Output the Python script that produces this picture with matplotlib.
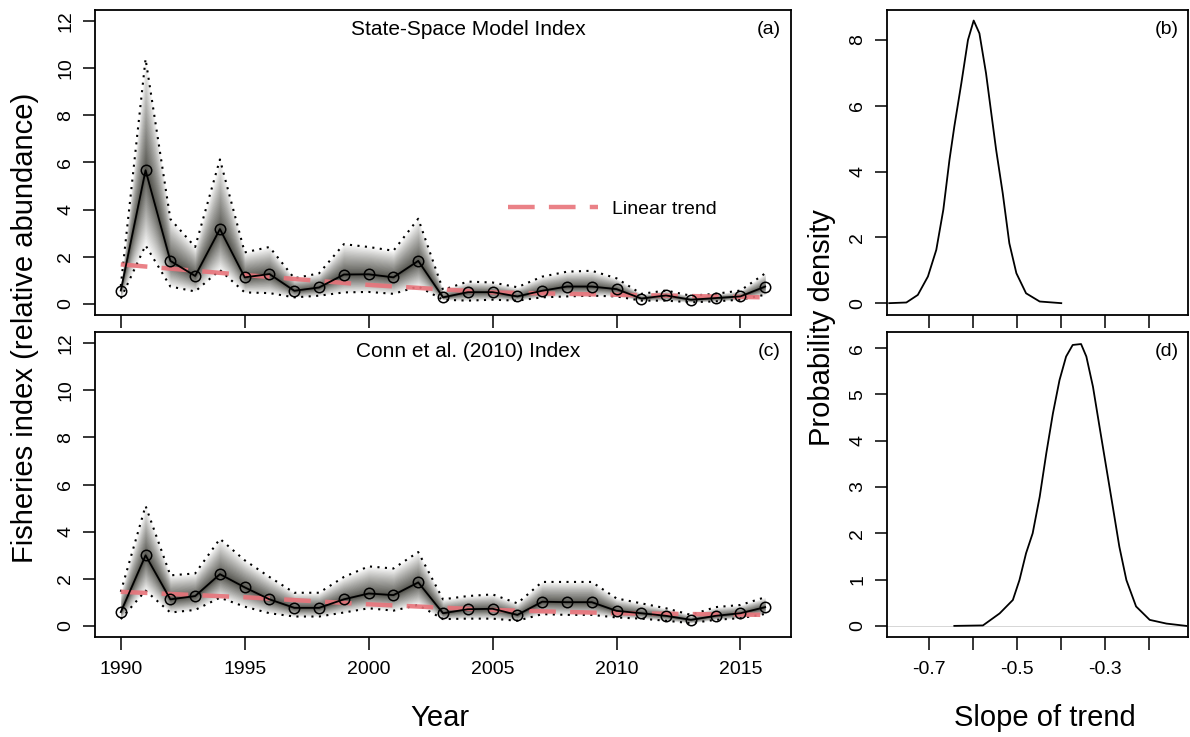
import numpy as np
import matplotlib
matplotlib.use("Agg")
from matplotlib import pyplot as plt

plt.rcParams['font.family'] = ['Liberation Sans', 'DejaVu Sans']

# years of the two index series
years = list(range(1990, 2017))

# state-space model index (a): median and dotted bounds
ssm_mid = [0.56, 5.67, 1.82, 1.18, 3.17, 1.12, 1.26, 0.55, 0.69, 1.24, 1.25, 1.12, 1.82,
           0.27, 0.49, 0.49, 0.31, 0.55, 0.73, 0.73, 0.62, 0.22, 0.35, 0.17, 0.24, 0.31, 0.73]
ssm_up = [0.75, 10.4, 3.6, 2.41, 6.13, 2.18, 2.41, 1.08, 1.29, 2.53, 2.41, 2.25, 3.61,
          0.59, 0.94, 0.90, 0.70, 1.15, 1.36, 1.40, 1.08, 0.42, 0.56, 0.34, 0.42, 0.56, 1.29]
ssm_lo = [0.22, 2.48, 0.73, 0.52, 1.43, 0.48, 0.45, 0.27, 0.34, 0.48, 0.50, 0.42, 0.73,
          0.17, 0.13, 0.17, 0.13, 0.27, 0.31, 0.34, 0.31, 0.13, 0.13, 0.06, 0.10, 0.17, 0.38]

# Conn et al. (2010) index (c)
conn_mid = [0.58, 2.99, 1.12, 1.26, 2.19, 1.63, 1.12, 0.76, 0.76, 1.12, 1.37, 1.30, 1.84,
            0.53, 0.70, 0.72, 0.46, 1.02, 1.00, 1.00, 0.63, 0.53, 0.42, 0.25, 0.42, 0.53, 0.79]
conn_up = [1.44, 5.09, 2.14, 2.22, 3.69, 2.78, 2.07, 1.40, 1.40, 2.07, 2.52, 2.43, 3.13,
           1.12, 1.26, 1.33, 0.95, 1.86, 1.86, 1.86, 1.16, 0.95, 0.74, 0.46, 0.79, 0.88, 1.21]
conn_lo = [0.28, 1.49, 0.56, 0.67, 1.19, 0.81, 0.53, 0.39, 0.39, 0.56, 0.74, 0.64, 0.88,
           0.28, 0.30, 0.30, 0.21, 0.49, 0.46, 0.46, 0.35, 0.30, 0.21, 0.11, 0.25, 0.32, 0.50]

# fitted trend read at a few years
trend_years = [1990, 1995, 2000, 2005, 2010, 2016]
ssm_trend = [1.67, 1.22, 0.80, 0.48, 0.38, 0.27]
conn_trend = [1.44, 1.21, 0.91, 0.67, 0.53, 0.46]

# posterior density of slope (b) and (d)
slope_b = [-0.79, -0.751, -0.725, -0.702, -0.683, -0.667, -0.653, -0.642, -0.626, -0.611,
           -0.598, -0.585, -0.570, -0.558, -0.547, -0.532, -0.517, -0.501, -0.479, -0.448, -0.399]
dens_b = [0.0, 0.02, 0.25, 0.81, 1.62, 2.84, 4.36, 5.37, 6.69, 8.0,
          8.59, 8.2, 6.99, 5.77, 4.66, 3.34, 1.82, 0.91, 0.30, 0.05, 0.0]
slope_d = [-0.642, -0.577, -0.539, -0.509, -0.494, -0.479, -0.464, -0.448, -0.433, -0.418,
           -0.403, -0.388, -0.373, -0.354, -0.342, -0.327, -0.312, -0.297, -0.282, -0.267,
           -0.251, -0.229, -0.198, -0.160, -0.115]
dens_d = [0.0, 0.01, 0.27, 0.56, 0.99, 1.57, 2.0, 2.79, 3.73, 4.59,
          5.31, 5.82, 6.07, 6.09, 5.82, 5.17, 4.30, 3.44, 2.58, 1.71,
          0.99, 0.42, 0.13, 0.05, 0.0]

TREND_COL = '#e8737a'


def style_axis(ax):
    for s in ax.spines.values():
        s.set_linewidth(1.3)
    ax.tick_params(direction='out', length=9, width=1.1, labelsize=14)
    ax.tick_params(axis='x', pad=8)
    ax.tick_params(axis='y', pad=6)


def rotate_yticks(ax):
    for lab in ax.get_yticklabels():
        lab.set_rotation(90)
        lab.set_va('center')


def index_panel(ax, mid, up, lo, trend, title, tag):
    x = np.array(years)
    mid = np.array(mid)
    up = np.array(up)
    lo = np.array(lo)
    # gradient shading: layers packed near the median so the band fades out
    n = 40
    for k in range(1, n + 1):
        f = (k / n) ** 2
        ax.fill_between(x, mid + f * (up - mid), mid - f * (mid - lo),
                        color='#2e2e26', alpha=0.045, lw=0)
    ax.plot(x, up, color='black', ls=(0, (1, 2.6)), lw=1.5)
    ax.plot(x, lo, color='black', ls=(0, (1, 2.6)), lw=1.5)
    tr, = ax.plot(trend_years, trend, color=TREND_COL, lw=3.2, alpha=0.9,
                  dashes=(6, 3.2))
    ax.plot(x, mid, color='black', lw=1.3, marker='o', ms=7.5,
            mfc='none', mec='black', mew=1.1)
    ax.set_xlim(1988.96, 2017.04)
    ax.set_ylim(-0.48, 12.48)
    ax.set_yticks([0, 2, 4, 6, 8, 10, 12])
    ax.set_xticks([1990, 1995, 2000, 2005, 2010, 2015])
    ax.text(0.536, 0.936, title, transform=ax.transAxes, ha='center', va='center', fontsize=15)
    ax.text(0.985, 0.936, tag, transform=ax.transAxes, ha='right', va='center', fontsize=14)
    style_axis(ax)
    rotate_yticks(ax)
    return tr


fig = plt.figure(figsize=(11.9, 7.37), dpi=100)

L1, R1 = 95 / 1190, 791 / 1190
L2, R2 = 887 / 1190, 1188 / 1190
top_a, bot_a = 1 - 10 / 737, 1 - 315 / 737
top_c, bot_c = 1 - 332 / 737, 1 - 637 / 737

ax_a = fig.add_axes([L1, bot_a, R1 - L1, top_a - bot_a])
ax_c = fig.add_axes([L1, bot_c, R1 - L1, top_c - bot_c])
ax_b = fig.add_axes([L2, bot_a, R2 - L2, top_a - bot_a])
ax_d = fig.add_axes([L2, bot_c, R2 - L2, top_c - bot_c])

tr = index_panel(ax_a, ssm_mid, ssm_up, ssm_lo, ssm_trend, 'State-Space Model Index', '(a)')
index_panel(ax_c, conn_mid, conn_up, conn_lo, conn_trend, 'Conn et al. (2010) Index', '(c)')
ax_a.tick_params(axis='x', labelbottom=False)

ax_a.legend([tr], ['Linear trend'], loc='center left', frameon=False,
            bbox_to_anchor=(0.594, 0.348), borderaxespad=0, borderpad=0,
            handlelength=4.6, handletextpad=0.75, fontsize=14)

# density panels
slope_ticks = [-0.7, -0.6, -0.5, -0.4, -0.3, -0.2]
slope_labels = ['-0.7', '', '-0.5', '', '-0.3', '']

ax_b.plot(slope_b, dens_b, color='black', lw=1.3)
ax_b.set_xlim(-0.795, -0.111)
ax_b.set_ylim(-0.36, 8.91)
ax_b.set_yticks([0, 2, 4, 6, 8])
ax_b.set_xticks(slope_ticks)
ax_b.tick_params(axis='x', labelbottom=False)
ax_b.text(0.97, 0.936, '(b)', transform=ax_b.transAxes, ha='right', va='center', fontsize=14)
style_axis(ax_b)
rotate_yticks(ax_b)

ax_d.axhline(0, color='#d0d0d0', lw=0.6)
ax_d.plot(slope_d, dens_d, color='black', lw=1.3)
ax_d.set_xlim(-0.795, -0.111)
ax_d.set_ylim(-0.24, 6.35)
ax_d.set_yticks([0, 1, 2, 3, 4, 5, 6])
ax_d.set_xticks(slope_ticks)
ax_d.set_xticklabels(slope_labels)
ax_d.text(0.97, 0.936, '(d)', transform=ax_d.transAxes, ha='right', va='center', fontsize=14)
style_axis(ax_d)
rotate_yticks(ax_d)

# shared axis titles
fig.text(25 / 1190, 1 - 328 / 737, 'Fisheries index (relative abundance)', rotation=90,
         ha='center', va='center', fontsize=21)
fig.text(822 / 1190, 1 - 328 / 737, 'Probability density', rotation=90,
         ha='center', va='center', fontsize=21)
fig.text(440 / 1190, 1 - 718 / 737, 'Year', ha='center', va='center', fontsize=21)
fig.text(1045 / 1190, 1 - 718 / 737, 'Slope of trend', ha='center', va='center', fontsize=21)

fig.savefig('out.png', dpi=100)
